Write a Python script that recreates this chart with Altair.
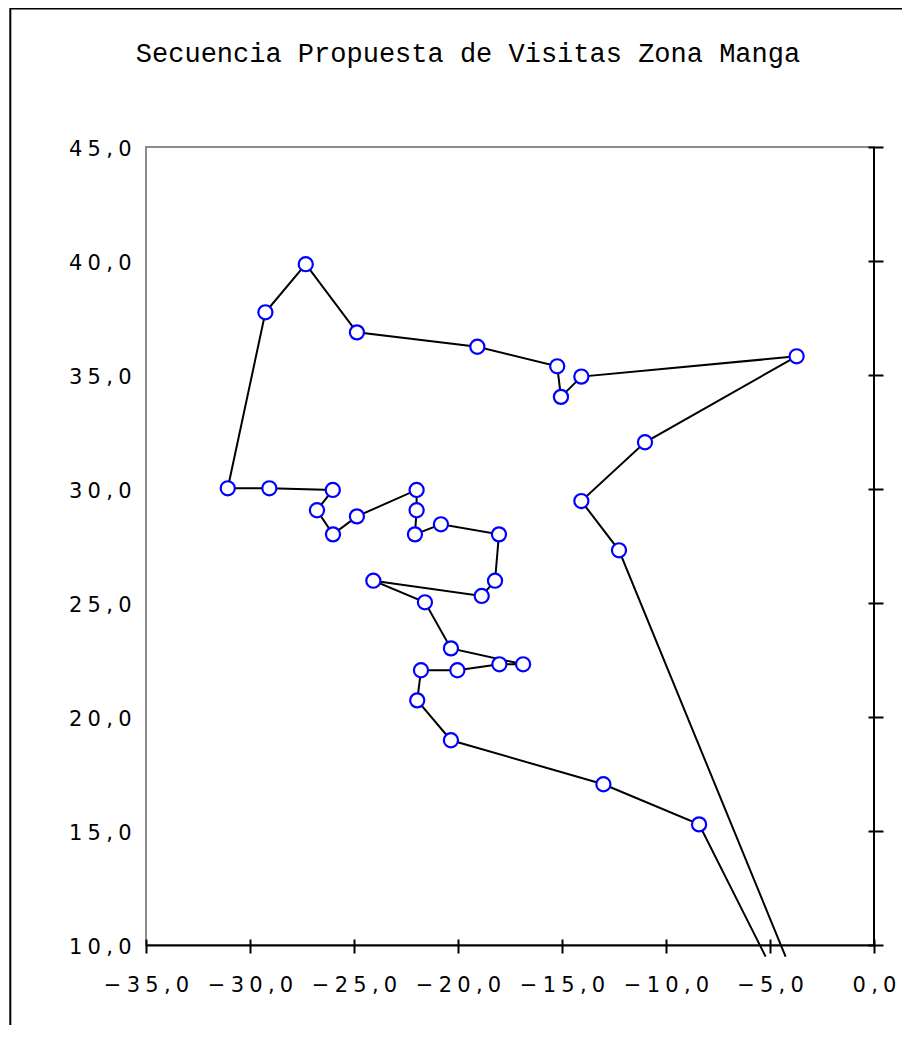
import altair as alt
import pandas as pd

TITLE = "Secuencia Propuesta de Visitas Zona Manga"

# Visit sequence (x, y); first and last entries are where the route leaves the picture
route_x = [-5.21, -8.41, -13.01, -20.34, -21.96, -21.78, -20.03, -18.01, -16.87, -20.34,
           -21.59, -24.07, -18.86, -18.22, -18.03, -20.82, -22.07, -21.99, -21.99, -24.86,
           -26.01, -26.78, -26.02, -29.07, -31.07, -29.26, -27.32, -24.86, -19.07, -15.23,
           -15.05, -14.07, -3.72, -11.01, -14.07, -12.26, -4.25]
route_y = [9.49, 15.29, 17.05, 18.98, 20.73, 22.05, 22.05, 22.31, 22.31, 23.01,
           25.03, 25.98, 25.31, 25.98, 28.01, 28.45, 28.01, 29.07, 29.96, 28.80,
           28.01, 29.07, 29.96, 30.03, 30.03, 37.75, 39.86, 36.87, 36.24, 35.38,
           34.04, 34.93, 35.82, 32.05, 29.47, 27.31, 9.49]
is_stop = [False] + [True] * 35 + [False]

x_ticks = [-35, -30, -25, -20, -15, -10, -5, 0]
x_tick_labels = ["\u221235,0", "\u221230,0", "\u221225,0", "\u221220,0",
                 "\u221215,0", "\u221210,0", "\u22125,0", "0,0"]
y_ticks = [10, 15, 20, 25, 30, 35, 40, 45]
y_tick_labels = ["10,0", "15,0", "20,0", "25,0", "30,0", "35,0", "40,0", "45,0"]

SP = "\u2005"


def spaced(s):
    return SP.join(s)


def label_expr(ticks, labels):
    expr = "''"
    for t, lab in reversed(list(zip(ticks, labels))):
        expr = f"datum.value == {t} ? '{spaced(lab)}' : ({expr})"
    return expr


df = pd.DataFrame({"x": route_x, "y": route_y, "stop": is_stop,
                   "order": list(range(len(route_x)))})

x_scale = alt.Scale(domain=[-35, 0], nice=False, zero=False)
y_scale = alt.Scale(domain=[10, 45], nice=False, zero=False)

LABEL_FONT = "DejaVu Sans"
LABEL_SIZE = 21

line = alt.Chart(df).mark_line(color="black", strokeWidth=2, clip=False).encode(
    x=alt.X("x:Q", scale=x_scale, title=None,
            axis=alt.Axis(orient="bottom", values=x_ticks, labelExpr=label_expr(x_ticks, x_tick_labels),
                          domain=True, domainColor="black", domainWidth=2,
                          ticks=False, tickSize=0, grid=False, labelPadding=29,
                          labelFont=LABEL_FONT, labelFontSize=LABEL_SIZE, labelColor="black",
                          labelOverlap=False, labelFlush=False)),
    y=alt.Y("y:Q", scale=y_scale, title=None,
            axis=alt.Axis(orient="left", values=y_ticks, labelExpr=label_expr(y_ticks, y_tick_labels),
                          domain=False, ticks=False, tickSize=0, grid=False, labelPadding=15,
                          labelOffset=2,
                          labelFont=LABEL_FONT, labelFontSize=LABEL_SIZE, labelColor="black",
                          labelOverlap=False, labelFlush=False)),
    order="order:Q",
)

points = alt.Chart(df).transform_filter("datum.stop").mark_point(
    shape="circle", filled=True, fill="white", stroke="#0000ff", strokeWidth=2.2,
    size=200, opacity=1,
).encode(
    x=alt.X("x:Q", scale=x_scale, title=None,
            axis=alt.Axis(orient="bottom", values=x_ticks, offset=-6, domain=False,
                          ticks=True, tickSize=14, tickWidth=2, tickColor="black",
                          labels=False, grid=False)),
    y=alt.Y("y:Q", scale=y_scale, title=None,
            axis=alt.Axis(orient="right", values=y_ticks, offset=-6, domain=False,
                          ticks=True, tickSize=15, tickWidth=2, tickColor="black",
                          labels=False, grid=False)),
)

right_edge = alt.Chart(pd.DataFrame({"x": [0]})).mark_rule(color="black", strokeWidth=2).encode(
    x=alt.X("x:Q", scale=x_scale, axis=None)
)

frame = alt.Chart(pd.DataFrame({"k": [0]})).mark_rect(
    fillOpacity=0, stroke="black", strokeWidth=2, clip=False
).encode(
    x=alt.value(-135.7), x2=alt.value(900), y=alt.value(-138.5), y2=alt.value(1000)
)

chart = alt.layer(frame, right_edge, line, points).resolve_axis(
    x="independent", y="independent"
).properties(
    width=728,
    height=798,
    background="white",
    autosize=alt.AutoSizeParams(type="none"),
    padding={"left": 138, "top": 139, "right": 28, "bottom": 80},
    title=alt.TitleParams(text=TITLE, font="Liberation Mono", fontSize=27,
                          fontWeight="normal", color="black", anchor="middle",
                          dx=-42, offset=-60),
).configure_view(
    stroke="#8c8c8c", strokeWidth=2
)

chart.save("out.html", embed_options={"renderer": "svg", "actions": False})
